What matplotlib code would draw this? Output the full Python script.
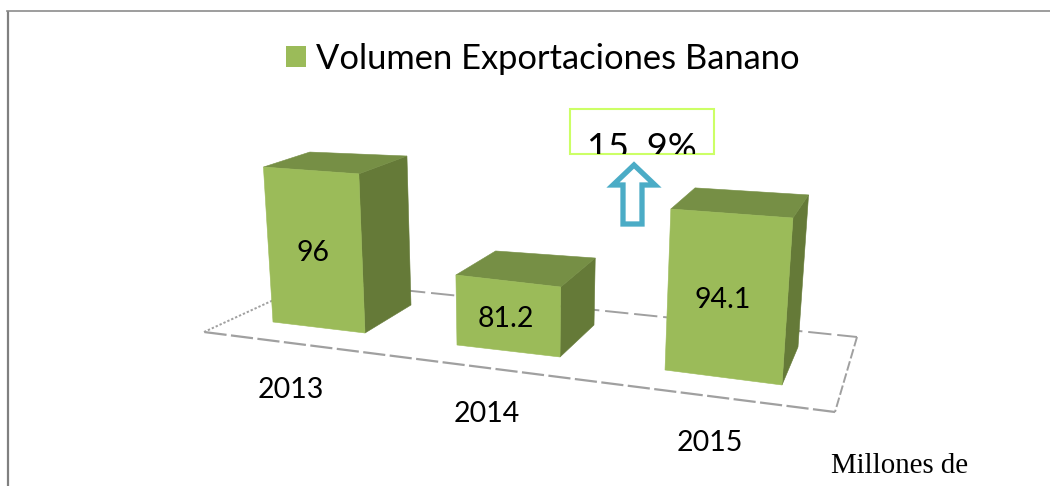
import matplotlib
matplotlib.use("Agg")
import matplotlib.pyplot as plt
from matplotlib.patches import Polygon, Rectangle

years = ["2013", "2014", "2015"]
volumes = [96, 81.2, 94.1]
value_labels = ["96", "81.2", "94.1"]
title = "Volumen Exportaciones Banano"
change_label = "15. 9%"
unit_label = "Millones de"

W, H = 1050, 486
fig = plt.figure(figsize=(W / 100, H / 100), dpi=100)
ax = fig.add_axes([0, 0, 1, 1])
ax.set_xlim(0, W)
ax.set_ylim(H, 0)
ax.axis("off")

FRONT, TOP, SIDE = "#9BBB59", "#768F45", "#657A38"
GREY = "#A0A0A0"
SANS = "Lato"

# Outer frame (open on the right, runs off the page)
ax.plot([7.5, 7.5], [H, 11], color="#808080", lw=1.6, solid_capstyle="butt")
ax.plot([7, W], [11, 11], color="#8C8C8C", lw=1.2)

# Floor of the 3D plot
fl, bl, br, fr = (204, 332), (315, 281), (857, 337), (835, 412)
ax.plot([fl[0], bl[0]], [fl[1], bl[1]], color=GREY, lw=1.4, ls=(0, (1.2, 1.0)), zorder=1)
ax.plot([bl[0], br[0]], [bl[1], br[1]], color=GREY, lw=1.4, ls=(0, (12, 3)), zorder=1)
ax.plot([br[0], fr[0]], [br[1], fr[1]], color=GREY, lw=1.4, ls=(0, (5, 1.5)), zorder=1)
ax.plot([fr[0], fl[0]], [fr[1], fl[1]], color=GREY, lw=1.6, ls=(0, (10, 2)), zorder=1)

# 3D projection of each bar: footprint corners (front-left, front-right,
# back-right, back-left), pixels per value unit at each corner, value floor
BASE_VALUE = 70
footprints = [
    [(273, 322), (365, 333), (411, 305), (317, 294)],
    [(457, 345), (560, 357), (594, 325), (496, 313)],
    [(665, 370), (782, 385), (798, 347), (689, 332)],
]
pixels_per_unit = [
    [5.96, 6.12, 5.73, 5.46],
    [6.25, 6.25, 5.98, 5.54],
    [6.68, 6.93, 6.31, 5.98],
]
VANISH_X, VANISH_D = 520, 4000


def project(corner, value, k):
    h = (value - BASE_VALUE) * k
    x, y = corner
    return (x + h * (x - VANISH_X) / VANISH_D, y - h)


for i, value in enumerate(volumes):
    base = footprints[i]
    top = [project(c, value, k) for c, k in zip(base, pixels_per_unit[i])]
    z = 3 + i
    ax.add_patch(Polygon([top[1], top[2], base[2], base[1]], fc=SIDE, ec=SIDE, lw=0.4, zorder=z))
    ax.add_patch(Polygon(top, fc=TOP, ec=TOP, lw=0.4, zorder=z))
    ax.add_patch(Polygon([top[0], top[1], base[1], base[0]], fc=FRONT, ec=FRONT, lw=0.4, zorder=z))

label_pos = [(313, 253), (506, 319), (723, 300)]
for (x, y), s in zip(label_pos, value_labels):
    ax.text(x, y, s, fontsize=20.5, family=SANS, ha="center", va="center", color="black", zorder=10)

year_pos = [(291, 390), (487, 414), (710, 443)]
for (x, y), s in zip(year_pos, years):
    ax.text(x, y, s, fontsize=20.5, family=SANS, ha="center", va="center", color="black", zorder=10)

# Legend
ax.add_patch(Rectangle((286, 46), 20, 21, fc=FRONT, ec="none", zorder=5))
ax.text(316, 59, title, fontsize=24.8, family=SANS, ha="left", va="center", color="black")

# Change box, text clipped by its box
box = Rectangle((569.5, 109), 144, 45, fc="white", ec="#CCFF66", lw=1.5, zorder=5)
ax.add_patch(box)
t = ax.text(641.5, 148, change_label, fontsize=26, family=SANS, ha="center", va="center",
            color="black", zorder=6)
t.set_clip_path(Rectangle((569.5, 109), 144, 45, transform=ax.transData))
t.set_clip_on(True)

# Hollow arrow
arrow = [(634, 165), (655, 185), (642, 185), (642, 224), (623, 224), (623, 185), (613, 185)]
ax.add_patch(Polygon(arrow, closed=True, fc="white", ec="#4BACC6", lw=3.8, joinstyle="miter", zorder=6))

ax.text(899.5, 466, unit_label, fontsize=20.8, family="Liberation Serif", ha="center", va="center", color="black")

fig.savefig("out.png", dpi=100, facecolor="white")
